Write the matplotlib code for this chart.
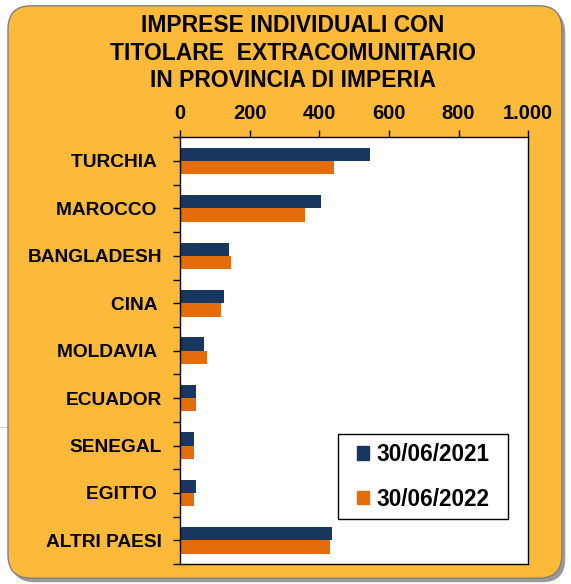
import matplotlib.pyplot as plt
import numpy as np
from matplotlib.patches import FancyBboxPatch, Patch, Rectangle
from matplotlib.lines import Line2D
from matplotlib.ticker import FuncFormatter, FixedLocator

plt.rcParams["font.family"] = ["Liberation Sans", "DejaVu Sans"]
plt.rcParams["font.weight"] = "bold"

paesi = ["TURCHIA ", "MAROCCO ", "BANGLADESH", "CINA ", "MOLDAVIA ", "ECUADOR",
         "SENEGAL", "EGITTO ", "ALTRI PAESI"]
v2021 = [545, 405, 142, 126, 69, 46, 41, 46, 438]
v2022 = [442, 359, 146, 119, 77, 46, 41, 41, 431]
serie = ["30/06/2021", "30/06/2022"]

navy = "#17375E"
orange = "#E46C0A"
bg = "#FDB939"

fig = plt.figure(figsize=(5.71, 5.84), dpi=100)
fig.patch.set_facecolor("white")

# faint slide line on the left edge
fig.add_artist(Line2D([0, 0.03], [0.269, 0.269], transform=fig.transFigure,
                      color="#cfcfcf", linewidth=0.8, zorder=0))

# rounded frame with a light shadow
shadow = FancyBboxPatch((0.020, 0.003), 0.970, 0.980, boxstyle="round,pad=0,rounding_size=0.04",
                        transform=fig.transFigure, facecolor="#9a9a9a", edgecolor="none", zorder=0)
frame = FancyBboxPatch((0.014, 0.010), 0.970, 0.980, boxstyle="round,pad=0,rounding_size=0.04",
                       transform=fig.transFigure, facecolor=bg, edgecolor="#7f7f7f", linewidth=1.0, zorder=1)
fig.patches.extend([shadow, frame])

ax = fig.add_axes([0.315, 0.034, 0.610, 0.731])
ax.set_facecolor("white")
ax.set_zorder(2)

y = np.arange(len(paesi))
h = 0.28
ax.barh(y - h / 2, v2021, height=h, color=navy, label=serie[0])
ax.barh(y + h / 2, v2022, height=h, color=orange, label=serie[1])

ax.set_xlim(0, 1000)
ax.set_ylim(len(paesi) - 0.5, -0.5)
ax.xaxis.tick_top()
ax.set_xticks(np.arange(0, 1001, 200))
ax.xaxis.set_major_formatter(FuncFormatter(lambda v, _: f"{int(v):,}".replace(",", ".")))
ax.tick_params(axis="x", direction="out", length=5, width=1, pad=5.5, labelsize=14.5)

ax.set_yticks(y)
ax.set_yticklabels(paesi, fontsize=13.8, fontweight="bold")
ax.yaxis.set_minor_locator(FixedLocator(np.arange(-0.5, len(paesi), 1)))
ax.tick_params(axis="y", which="both", direction="out", length=5, width=1)
ax.tick_params(axis="y", which="major", pad=8)

for s in ax.spines.values():
    s.set_color("black")
    s.set_linewidth(1.0)

# legend box drawn separately so its padding can match the original
ax.add_patch(Rectangle((0.454, 0.105), 0.4885, 0.199, transform=ax.transAxes,
                       facecolor="white", edgecolor="black", linewidth=1.0, zorder=4))
leg = ax.legend(handles=[Patch(color=navy), Patch(color=orange)], labels=serie,
                loc="center", bbox_to_anchor=(0.698, 0.2045), borderaxespad=0,
                prop={"weight": "bold", "size": 16.3}, frameon=False,
                handlelength=0.55, handleheight=0.55, handletextpad=0.3,
                labelspacing=0.95, borderpad=0)
leg.set_zorder(5)

title = "IMPRESE INDIVIDUALI CON\nTITOLARE  EXTRACOMUNITARIO\nIN PROVINCIA DI IMPERIA"
fig.text(0.513, 0.976, title, ha="center", va="top", fontsize=16.5, fontweight="bold",
         linespacing=1.25, zorder=3)

fig.savefig("out.png", dpi=100, facecolor=fig.get_facecolor())
